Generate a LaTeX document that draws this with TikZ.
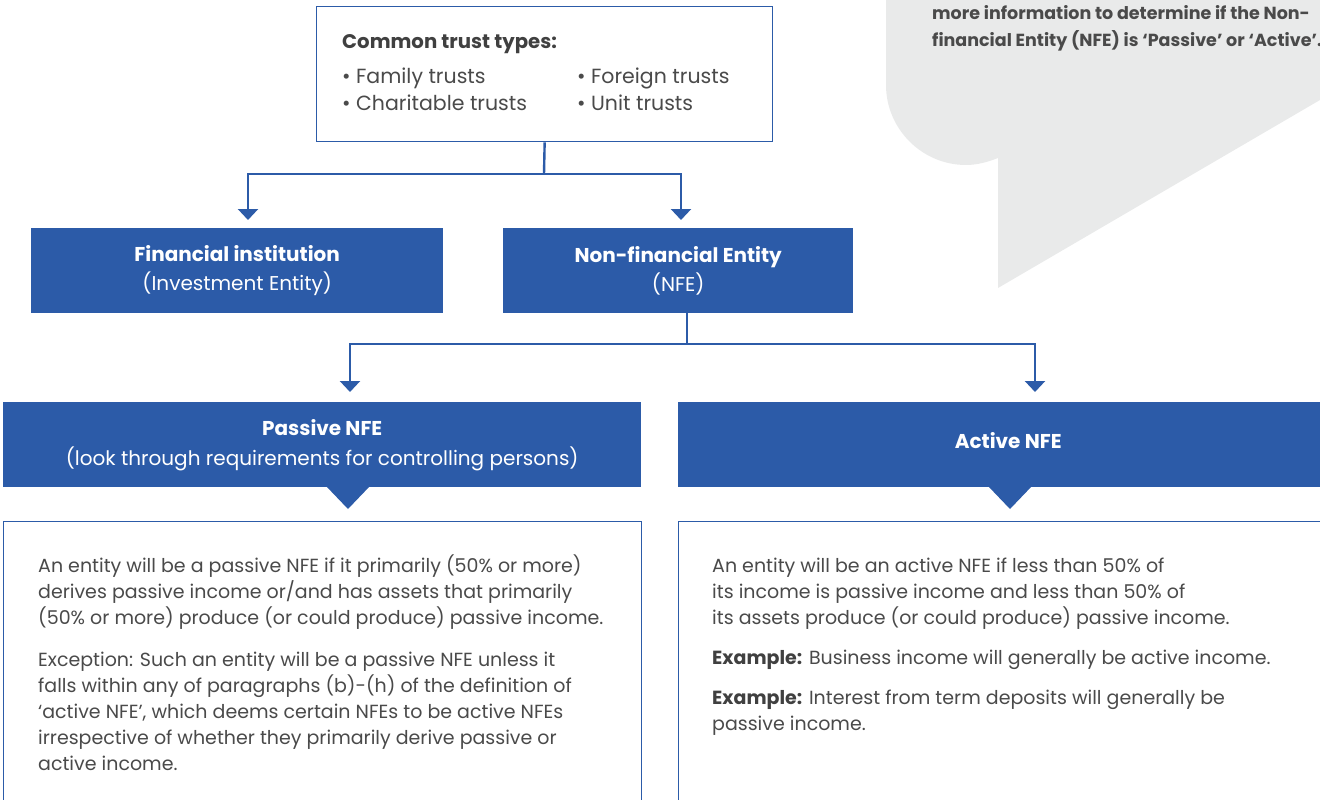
\documentclass[tikz,border=0pt]{standalone}
\usepackage{fontspec}
\setmainfont{Poppins}
\usetikzlibrary{arrows.meta}
\definecolor{nfeblue}{HTML}{2C5BA8}
\definecolor{txtgrey}{HTML}{4A4A4A}
\definecolor{txtdark}{HTML}{404040}
\definecolor{bubblegrey}{HTML}{E9EAEA}
\begin{document}
\begin{tikzpicture}[x=1pt,y=-1pt,
  bluebox/.style={fill=nfeblue, draw=none, text=white, align=center, inner sep=0pt, anchor=north west},
  outlinebox/.style={draw=nfeblue, line width=1.3pt, fill=white, inner sep=0pt, anchor=north west},
  bodytext/.style={text=txtgrey, align=left, anchor=north west, inner sep=0pt, font=\fontsize{19}{26}\selectfont},
  connector/.style={draw=nfeblue, line width=2.4pt},
  arrowline/.style={connector, -{Triangle[width=20pt,length=11pt]}},
  pointer/.style={fill=nfeblue, draw=none},
]
\useasboundingbox (0,0) rectangle (1320,800);

% speech bubble
\fill[bubblegrey] (886,-5) -- (886,85) .. controls (886,129) and (922,165) .. (966,165)
  .. controls (977,165) and (988,162) .. (998,158) -- (998,288) -- (1320,100) -- (1320,-5) -- cycle;
\node[bodytext, text=txtgrey, font=\bfseries\fontsize{17.5}{27}\selectfont] (bubbletext) at (932,5)
  {more information to determine if the Non-\\financial Entity (NFE) is ‘Passive’ or ‘Active’.};

% top box
\node[outlinebox, minimum width=456pt, minimum height=135pt] (trust) at (316,6) {};
\node[bodytext, text=txtdark, font=\bfseries\fontsize{19.7}{27}\selectfont] (trusttitle) at (342,34) {Common trust types:};
\node[bodytext, font=\fontsize{20.5}{27}\selectfont] (trustcolA) at (342,68) {\textbullet\ Family trusts\\\textbullet\ Charitable trusts};
\node[bodytext, font=\fontsize{20.5}{27}\selectfont] (trustcolB) at (577,68) {\textbullet\ Foreign trusts\\\textbullet\ Unit trusts};

% second level
\node[bluebox, minimum width=412pt, minimum height=85pt, font=\fontsize{20}{29}\selectfont] (fi) at (31,228)
  {\bfseries Financial institution\\(Investment Entity)};
\node[bluebox, minimum width=350pt, minimum height=85pt, font=\fontsize{20}{29}\selectfont] (nfe) at (503,228)
  {\bfseries Non-financial Entity\\(NFE)};

% third level
\node[bluebox, minimum width=638pt, minimum height=85pt, font=\fontsize{20}{30}\selectfont] (passive) at (3,402)
  {\bfseries Passive NFE\\(look through requirements for controlling persons)};
\node[bluebox, minimum width=660pt, minimum height=85pt] (active) at (678,402) {};
\node[text=white, inner sep=0pt, font=\bfseries\fontsize{20}{30}\selectfont] (activelabel) at ([yshift=4pt]active.center) {Active NFE};
\fill[pointer] (326,486) -- (370,486) -- (348,509) -- cycle;
\fill[pointer] (988,486) -- (1032,486) -- (1010,509) -- cycle;

% text boxes
\node[outlinebox, minimum width=638pt, minimum height=300pt] (passivebox) at (3,521) {};
\node[outlinebox, minimum width=660pt, minimum height=300pt] (activebox) at (678,521) {};
\node[bodytext] (passivetext) at (38,555)
  {An entity will be a passive NFE if it primarily (50\% or more)\\
   derives passive income or/and has assets that primarily\\
   (50\% or more) produce (or could produce) passive income.\\[16pt]
   Exception: Such an entity will be a passive NFE unless it\\
   falls within any of paragraphs (b)-(h) of the definition of\\
   ‘active NFE’, which deems certain NFEs to be active NFEs\\
   irrespective of whether they primarily derive passive or\\
   active income.};
\node[bodytext] (activetext) at (712,558)
  {An entity will be an active NFE if less than 50\% of\\
   its income is passive income and less than 50\% of\\
   its assets produce (or could produce) passive income.\\[14pt]
   {\color{txtdark}\bfseries Example:} Business income will generally be active income.\\[14pt]
   {\color{txtdark}\bfseries Example:} Interest from term deposits will generally be\\
   passive income.};

% connectors
\coordinate (split1) at (544,174);
\coordinate (fitip) at (248,220);
\coordinate (nfetip) at (681,220);
\draw[connector] (trust.south) -- (split1);
\draw[arrowline] (split1) -| (fitip);
\draw[arrowline] (split1) -| (nfetip);

\coordinate (nfeout) at (687,313);
\coordinate (split2) at (687,344);
\coordinate (passivetip) at (350,392);
\coordinate (activetip) at (1035,392);
\draw[connector] (nfeout) -- (split2);
\draw[arrowline] (split2) -| (passivetip);
\draw[arrowline] (split2) -| (activetip);
\end{tikzpicture}
\end{document}
